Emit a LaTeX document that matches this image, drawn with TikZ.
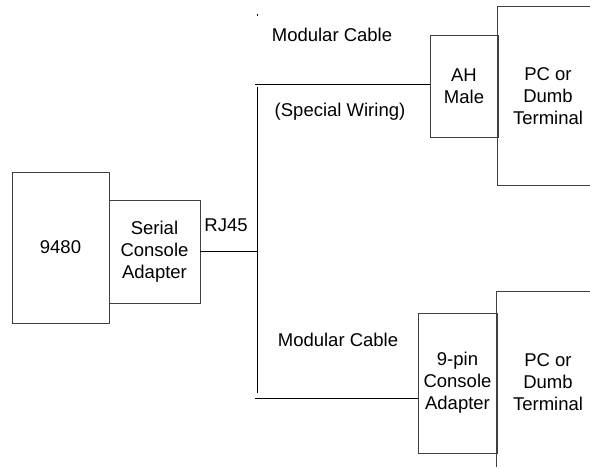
\documentclass[tikz,border=0pt]{standalone}
\usepackage{fontspec}
\setmainfont{Liberation Sans}
\begin{document}
\begin{tikzpicture}[x=1pt,y=-1pt,
  every node/.style={font=\fontsize{18.5}{22}\selectfont, align=center, inner sep=0pt},
  box/.style={draw=black!75, line width=0.8pt},
  wire/.style={draw=black, line width=0.9pt},
  edge/.style={draw=black!75, line width=0.8pt}]
\useasboundingbox (0,0) rectangle (590,469);
% left devices
\node[box, minimum width=97pt, minimum height=151pt] (dev) at (60.5,247.5) {9480};
\node[box, minimum width=91pt, minimum height=103pt] (sca) at (154.5,251.5) {Serial\\Console\\Adapter};
\node (rj) at (226,225) {RJ45};
% trunk
\coordinate (vt) at (257,87);
\coordinate (vb) at (257,393);
\coordinate (tick) at (257,14);
\draw[wire] (vt) -- (vb);
\draw[wire] (tick) -- ++(0,2);
\draw[wire] (sca.east) -- (sca.east -| vt);
% top branch
\node[box, minimum width=68pt, minimum height=102pt] (ah) at (464,86) {AH\\Male};
\coordinate (ht) at (255,84);
\draw[wire] (ht) -- (ah.west |- ht);
\node[minimum width=100pt, minimum height=178pt] (pc1) at (548,96) {PC or\\Dumb\\Terminal};
\draw[edge] (pc1.north east) -- (pc1.north west) -- (pc1.south west) -- (pc1.south east);
\node (mc1) at (332,35) {Modular Cable};
\node (sw) at (340,112) {(Special Wiring)};
% bottom branch
\node[box, minimum width=79pt, minimum height=140pt] (np) at (457.5,383) {9-pin\\Console\\Adapter};
\coordinate (hb) at (255,398);
\draw[wire] (hb) -- (np.west |- hb);
\node[minimum width=100pt, minimum height=175pt] (pc2) at (547,379.5) {};
\node (pc2t) at (548,382) {PC or\\Dumb\\Terminal};
\draw[edge] (pc2.north east) -- (pc2.north west) -- (pc2.south west);
\node (mc2) at (338,340) {Modular Cable};
\end{tikzpicture}
\end{document}
